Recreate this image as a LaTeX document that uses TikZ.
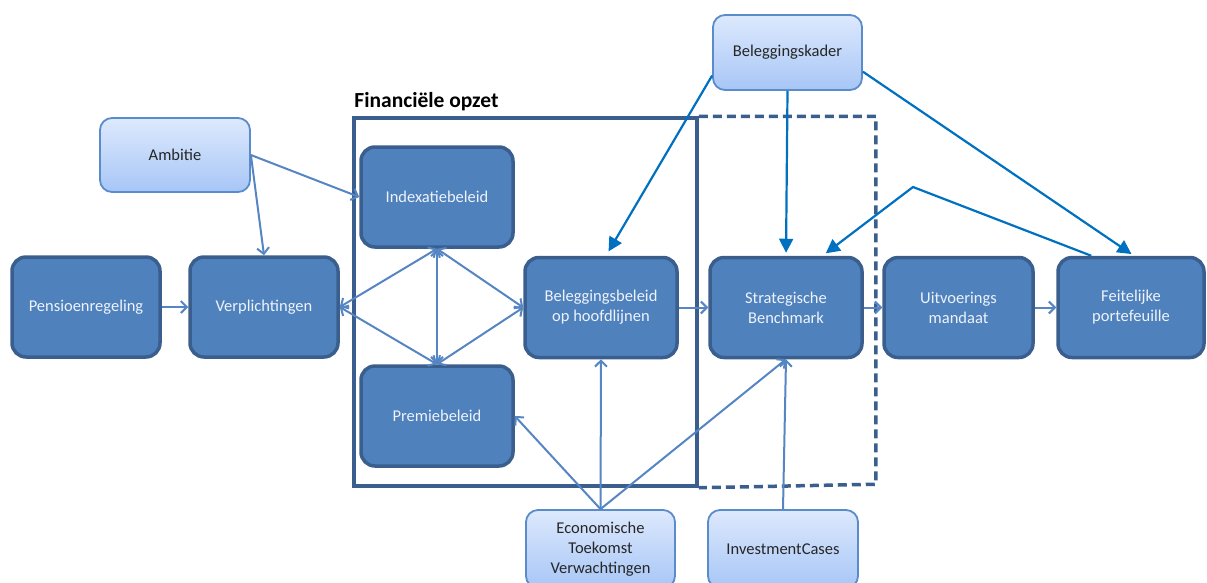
\documentclass[tikz,border=0pt]{standalone}
\usepackage{fontspec}
\setmainfont{Carlito}
\usetikzlibrary{arrows.meta,calc}
\definecolor{dfill}{HTML}{4F81BD}
\definecolor{dborder}{HTML}{3A5F8E}
\definecolor{dtext}{HTML}{EEF3FA}
\definecolor{ltop}{HTML}{DDE9FD}
\definecolor{lbot}{HTML}{A7C6F6}
\definecolor{lborder}{HTML}{5A8BCB}
\definecolor{cline}{HTML}{5585C2}
\definecolor{kblue}{HTML}{0070C0}
\begin{document}
\begin{tikzpicture}[x=1pt,y=-1pt,
 darkbox/.style={draw=dborder, line width=3.5pt, fill=dfill, rounded corners=14pt, minimum width=150pt, minimum height=100pt, text=dtext, align=center, font=\fontsize{16.5}{20}\selectfont, inner sep=2pt},
 lightbox/.style={draw=lborder, line width=1.8pt, top color=ltop, bottom color=lbot, rounded corners=12pt, minimum width=149pt, minimum height=75pt, text=black!85, align=center, font=\fontsize{16.5}{20}\selectfont, inner sep=2pt},
 conn/.style={draw=cline, line width=2pt, -{Straight Barb[length=6pt,width=12pt]}},
 bconn/.style={draw=cline, line width=2pt, {Straight Barb[length=6pt,width=12pt]}-{Straight Barb[length=6pt,width=12pt]}},
 kconn/.style={draw=kblue, line width=2.2pt, -{Triangle[length=14pt,width=14pt]}},
 frame/.style={draw=dborder, line width=3.5pt},
]
\clip (0,0) rectangle (1207,582);
\useasboundingbox (0,0) rectangle (1207,582);

% frames
\node[frame, minimum width=343pt, minimum height=368pt, inner sep=0pt] (fin) at (525.5,302) {};
\node[anchor=south west, inner sep=0pt, font=\fontsize{21.5}{25}\selectfont\bfseries] (finlbl) at ($(fin.north west)+(2,-5)$) {Financiële opzet};
\draw[frame, dash pattern=on 9pt off 5pt] (fin.north east) -- ++(177,0) -- ++(0,368) -- (fin.south east);

% dark nodes
\node[darkbox, minimum width=148pt] (pens) at (86,307) {Pensioenregeling};
\node[darkbox, minimum width=148pt] (verp) at (264,307) {Verplichtingen};
\node[darkbox, minimum width=152pt] (index) at (437,197) {Indexatiebeleid};
\node[darkbox, minimum width=152pt] (premie) at (437,416) {Premiebeleid};
\node[darkbox, minimum width=152pt] (bel) at (601,307.5) {Beleggingsbeleid\\op hoofdlijnen};
\node[darkbox, minimum width=152pt] (strat) at (786,307.5) {Strategische\\Benchmark};
\node[darkbox, minimum width=149pt] (uit) at (958.5,307.5) {Uitvoerings\\mandaat};
\node[darkbox, minimum width=146pt] (feit) at (1131,307.5) {Feitelijke\\portefeuille};

% light nodes
\node[lightbox, minimum width=150pt, minimum height=74pt] (amb) at (175,155) {Ambitie};
\node[lightbox, minimum width=149pt, minimum height=75pt] (kader) at (787.5,52.5) {Beleggingskader};
\node[lightbox, minimum width=149pt, minimum height=78pt] (econ) at (600.5,549) {Economische\\Toekomst\\Verwachtingen};
\node[lightbox, minimum width=150pt, minimum height=78pt] (inv) at (783,549) {InvestmentCases};

% light connectors
\draw[conn] (pens) -- (verp);
\draw[conn] (amb.east) -- (verp.north);
\draw[conn] (amb.east) -- (index.west);
\draw[bconn] (verp.east) -- (index.south);
\draw[bconn] (verp.east) -- (premie.north);
\draw[bconn] (index.south) -- (premie.north);
\draw[bconn] (index.south) -- (bel.west);
\draw[bconn] (premie.north) -- (bel.west);
\draw[conn] (bel.east) -- (strat.west);
\draw[conn] (strat.east) -- (uit.west);
\draw[conn] (uit.east) -- (feit.west);
\draw[conn] (econ.north) -- (premie.east);
\draw[conn] (econ.north) -- (bel.south);
\draw[conn] (econ.north) -- (strat.south);
\draw[conn] (inv.north) -- (strat.south);

% Beleggingskader connectors
\coordinate (apex) at (913,187);
\draw[kconn, shorten >=5pt] ($(kader.west)!0.6!(kader.south west)$) -- ($(bel.north)+(5,0)$);
\draw[kconn, shorten >=3pt] (kader.south) -- (strat.north);
\draw[kconn, shorten >=3pt] ($(kader.east)!0.5!(kader.south east)$) -- ($(feit.north)+(3,0)$);
\draw[kconn, shorten >=4pt] ($(feit.north west)+(35,0)$) -- (apex) -- ($(strat.north)!0.47!(strat.north east)$);
\end{tikzpicture}
\end{document}
